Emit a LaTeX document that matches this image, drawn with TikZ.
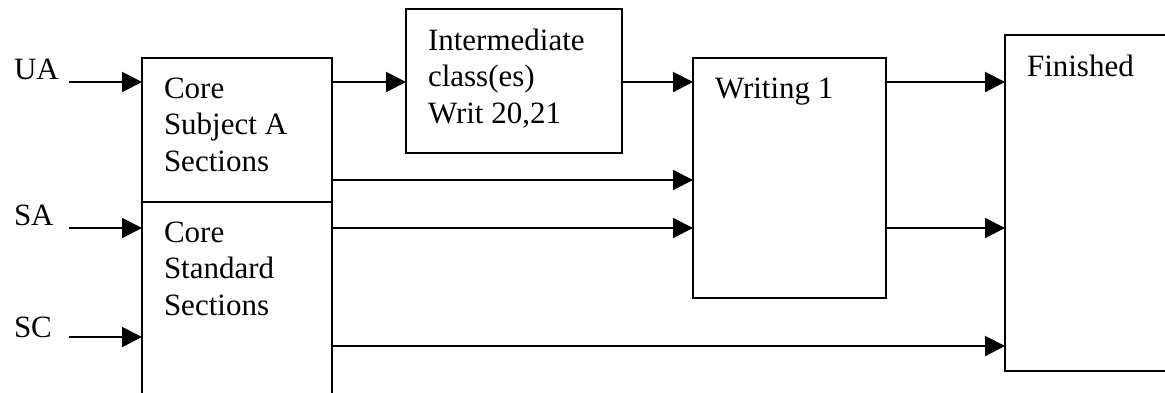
\documentclass[tikz,border=0pt]{standalone}
\usepackage{fontspec}
\setmainfont{Liberation Serif}
\tikzstyle{box}=[rectangle,draw=black,line width=1pt,outer sep=0pt,inner sep=0pt,anchor=north west]
\tikzstyle{txt}=[anchor=north west,align=left,inner sep=0pt,xshift=10.5pt,yshift=-9.4pt]
\tikzstyle{src}=[anchor=base west,inner sep=0pt]
\usetikzlibrary{positioning,arrows.meta}

\begin{document}
\begin{tikzpicture}[x=0.5pt,y=-0.5pt,>={Triangle[length=10pt,width=10pt]},line width=1pt,
    every node/.style={font=\fontsize{15.5}{18.25}\selectfont}]
            \useasboundingbox (0,0) rectangle (1165,392);
            \clip (0,0) rectangle (1165,392);

            % ROWS OF THE ARROWS
            \coordinate (uain) at (69,82);
            \coordinate (sain) at (69,228);
            \coordinate (scin) at (69,337);
            \coordinate (arow) at (0,180);
            \coordinate (lowrow) at (0,346);

            % INPUT PART
            \node[src] (ua) at (13,79) {UA};
            \node[src] (sa) at (13,225) {SA};
            \node[src] (sc) at (13,337) {SC};

            % CORE PART
            \node[box,minimum width=95pt,minimum height=72pt,
                label={[txt]north west:{Core\\Subject A\\Sections}}] (corea) at (142,58) {};
            \node[box,below=0pt of corea,minimum width=95pt,minimum height=100pt,
                label={[txt]north west:{Core\\Standard\\Sections}}] (corestd) {};

            % WRITING PART
            \node[box,minimum width=108pt,minimum height=72pt,
                label={[txt]north west:{Intermediate\\class(es)\\Writ 20,21}}] (inter) at (406,9) {};
            \node[box,minimum width=96.5pt,minimum height=120pt,
                label={[txt]north west:Writing 1}] (writing) at (693,58) {};
            \node[box,minimum width=110pt,minimum height=168pt,
                label={[txt]north west:Finished}] (finished) at (1005,35) {};

            \path[->] (uain) edge (uain -| corea.west);
            \path[->] (sain) edge (sain -| corestd.west);
            \path[->] (scin) edge (scin -| corestd.west);

            \path[->] (corea.east |- uain) edge (inter.west |- uain);
            \path[->] (inter.east |- uain) edge (writing.west |- uain);
            \path[->] (corea.east |- arow) edge (writing.west |- arow);
            \path[->] (corestd.east |- sain) edge (writing.west |- sain);

            \path[->] (writing.east |- uain) edge (finished.west |- uain);
            \path[->] (writing.east |- sain) edge (finished.west |- sain);
            \path[->] (corestd.east |- lowrow) edge (finished.west |- lowrow);

        \end{tikzpicture}
\end{document}
